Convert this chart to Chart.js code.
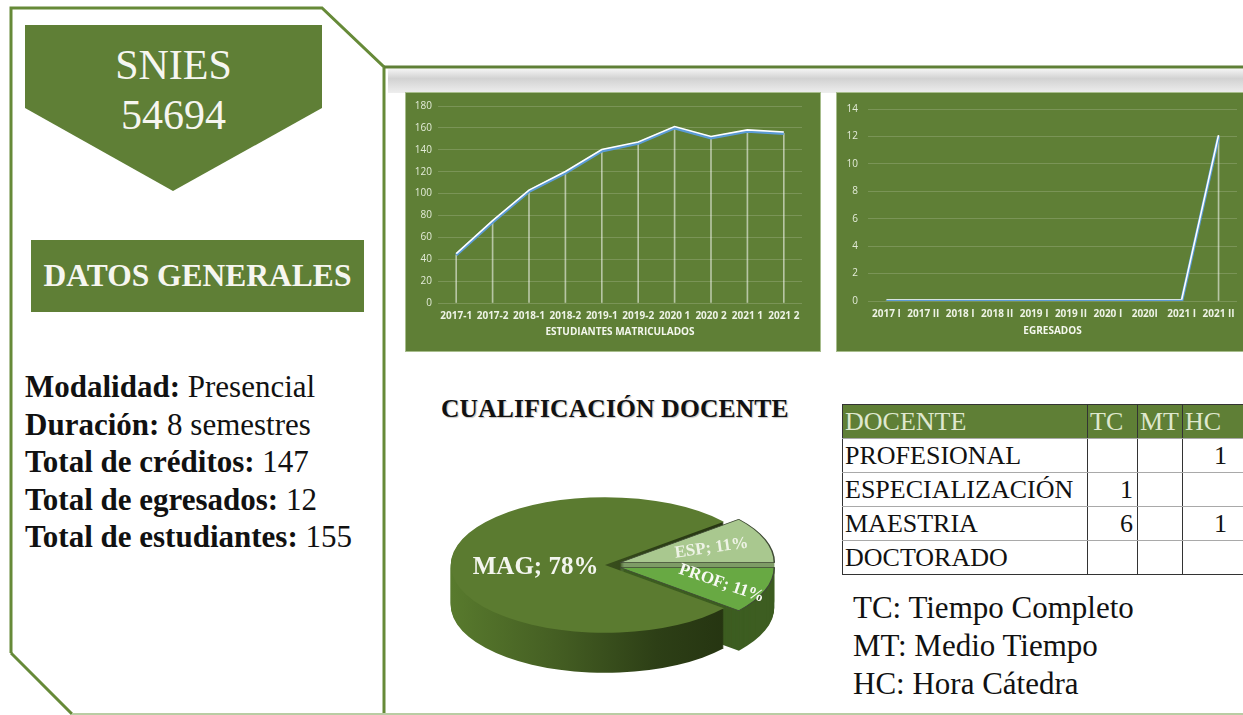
<!DOCTYPE html>
<html><head><meta charset="utf-8">
<script src="https://cdn.jsdelivr.net/npm/chart.js@4.4.1/dist/chart.umd.min.js"></script>
<style>
html,body{margin:0;padding:0}
body{width:1243px;height:715px;overflow:hidden;background:#fff;position:relative;font-family:"Liberation Serif","Times New Roman",serif;color:#111}
.abs{position:absolute}
.box{position:absolute;background:#5f7f36;box-shadow:0 0 0 1px #a7bd8c}
.box canvas{position:absolute;left:0;top:0}
#snies{left:25px;width:297px;top:40px;text-align:center;color:#f6f6f0;font-size:42px;line-height:50px}
#datos{left:31px;top:240px;width:333px;height:72px;background:#5f7f36;color:#f6f6f0;font-weight:bold;font-size:31.5px;line-height:72px;text-align:center;white-space:nowrap}
#info{left:25px;top:368px;font-size:31px;line-height:37.5px;white-space:nowrap}
#info b{font-weight:bold}
#ctitle{left:441px;top:394px;font-size:25.5px;font-weight:bold;letter-spacing:0.2px;text-shadow:1px 1px 1px rgba(0,0,0,0.25);white-space:nowrap}
#tabla{left:842px;top:404px;width:415px;border-collapse:collapse;font-size:26px;table-layout:fixed}
#tabla td{height:33px;padding:0 2px;border-left:1px solid #333;border-right:1px solid #333;border-top:1px solid #a9a9a9;border-bottom:1px solid #a9a9a9;line-height:33px;white-space:nowrap;overflow:hidden}
#tabla tr:first-child td{background:#5f7f36;color:#dfe8cf;border-top:1px solid #333}
#tabla tr:last-child td{border-bottom:1px solid #333}
#tabla td.num{text-align:right;padding-right:4px}
#tabla td.hc{text-align:right;padding-right:30px}
#leyenda{left:853px;top:589px;font-size:31px;line-height:38px;white-space:nowrap}
</style></head><body>

<svg class="abs" style="left:0;top:0" width="1243" height="715">
  <defs>
    <linearGradient id="shadow" x1="0" y1="0" x2="0" y2="1">
      <stop offset="0" stop-color="#f4f4f4"/>
      <stop offset="0.4" stop-color="#d2d2d2"/>
      <stop offset="1" stop-color="#eeeeee"/>
    </linearGradient>
  </defs>
  <rect x="388" y="69" width="855" height="24" fill="url(#shadow)"/>
  <polyline points="11,653 11,8 322,8 384,67 384,715" fill="none" stroke="#668a38" stroke-width="3"/>
  <line x1="11" y1="653" x2="72" y2="714" stroke="#668a38" stroke-width="3"/>
  <line x1="72" y1="714" x2="1243" y2="714" stroke="#b9cca3" stroke-width="2"/>
  <line x1="384" y1="67" x2="1243" y2="67" stroke="#5f7f36" stroke-width="3"/>
  <polygon points="25,25 322,25 322,108 173,191 25,108" fill="#5f7f36"/>
</svg>

<div id="snies" class="abs">SNIES<br>54694</div>
<div id="datos" class="abs">DATOS GENERALES</div>
<div id="info" class="abs"></div>

<div class="box" style="left:406px;top:93px;width:414px;height:258px"><canvas id="c1" width="414" height="258"></canvas></div>
<div class="box" style="left:837px;top:93px;width:410px;height:258px"><canvas id="c2" width="410" height="258"></canvas></div>

<div id="ctitle" class="abs">CUALIFICACIÓN DOCENTE</div>
<canvas id="c3" class="abs" style="left:440px;top:400px" width="360" height="330"></canvas>

<table id="tabla" class="abs"></table>
<div id="leyenda" class="abs"></div>

<script>
// ---------- data ----------
const semestresMatric = ['2017-1','2017-2','2018-1','2018-2','2019-1','2019-2','2020 1','2020 2','2021 1','2021 2'];
const matriculados = [44,74,102,119,139,146,160,151,157,155];
const semestresEgres = ['2017 I','2017 II','2018 I','2018 II','2019 I','2019 II','2020 I','2020I','2021 I','2021 II'];
const egresados = [0,0,0,0,0,0,0,0,0,12];
const cualifLabels = ['ESP','PROF','MAG'];
const cualifValues = [11,11,78];
const tablaHeader = ['DOCENTE','TC','MT','HC'];
const tablaFilas = ['PROFESIONAL','ESPECIALIZACIÓN','MAESTRIA','DOCTORADO'];
const tablaTC = ['', '1', '6', ''];
const tablaMT = ['', '', '', ''];
const tablaHC = ['1', '', '1', ''];
const datosLabels = ['Modalidad:','Duración:','Total de créditos:','Total de egresados:','Total de estudiantes:'];
const datosValues = ['Presencial','8 semestres','147','12','155'];
const leyendaItems = ['TC: Tiempo Completo','MT: Medio Tiempo','HC: Hora Cátedra'];

// ---------- text blocks ----------
document.getElementById('info').innerHTML = datosLabels.map((l,i)=>'<b>'+l+'</b> '+datosValues[i]).join('<br>');
document.getElementById('leyenda').innerHTML = leyendaItems.join('<br>');
(function(){
  const t = document.getElementById('tabla');
  const cg = '<colgroup><col style="width:245px"><col style="width:50px"><col style="width:45px"><col style="width:75px"></colgroup>';
  let h = cg + '<tr>' + tablaHeader.map(x=>'<td>'+x+'</td>').join('') + '</tr>';
  tablaFilas.forEach((f,i)=>{
    h += '<tr><td>'+f+'</td><td class="num">'+tablaTC[i]+'</td><td class="num">'+tablaMT[i]+'</td><td class="hc">'+tablaHC[i]+'</td></tr>';
  });
  t.innerHTML = h;
})();

// ---------- line charts ----------
const liftPlugin = {
  id:'lift',
  beforeDatasetDraw(chart,args){ if(chart.data.datasets[args.index].lift){chart.ctx.save();chart.ctx.translate(0,-1.3);} },
  afterDatasetDraw(chart,args){ if(chart.data.datasets[args.index].lift){chart.ctx.restore();} }
};

function lineConfig(labels, data, yMax, yStep, title, pad, yWidth, yPad, xFont, axisH){
  return {
    type:'bar',
    data:{labels:labels, datasets:[
      {type:'bar', data:data, backgroundColor:'rgba(255,255,255,0.55)', barThickness:1, order:3},
      {type:'line', data:data, borderColor:'#5b9bd5', borderWidth:3.2, pointRadius:0, order:2, tension:0},
      {type:'line', data:data, borderColor:'#ffffff', borderWidth:1.6, pointRadius:0, order:1, tension:0, lift:true}
    ]},
    options:{
      responsive:false, animation:false,
      layout:{padding:pad},
      plugins:{legend:{display:false}, tooltip:{enabled:false}},
      scales:{
        y:{min:0,max:yMax,
          ticks:{stepSize:yStep,color:'#e3ebd8',font:{family:'Open Sans',size:10},padding:yPad},
          grid:{color:'rgba(255,255,255,0.17)',drawTicks:false},
          border:{display:false},
          afterFit(s){s.width=yWidth;}
        },
        x:{
          ticks:{color:'#eef3e6',font:{family:'Open Sans',size:xFont,weight:'bold'},autoSkip:false,maxRotation:0,minRotation:0,padding:7},
          grid:{display:false,drawTicks:false},
          border:{display:false},
          title:{display:true,text:title,color:'#f4f7ee',font:{family:'Open Sans',size:10,weight:'bold'},padding:{top:0,bottom:0}},
          afterFit(s){s.height=axisH;}
        }
      }
    },
    plugins:[liftPlugin]
  };
}
new Chart(document.getElementById('c1'), lineConfig(semestresMatric, matriculados, 180, 20, 'ESTUDIANTES MATRICULADOS', {left:8,right:18,top:13,bottom:13}, 24, 6, 10, 35));
new Chart(document.getElementById('c2'), lineConfig(semestresEgres, egresados, 14, 2, 'EGRESADOS', {left:8,right:10,top:12,bottom:14}, 23, 10, 10, 36));

// ---------- 3D pie ----------
const pie3d = {
  id:'pie3d',
  offsets(chart,o){
    const arcs = chart.getDatasetMeta(0).data;
    return arcs.map((a,i)=>{const m=(a.startAngle+a.endAngle)/2;const e=o.explode[i]||0;return [Math.cos(m)*e, Math.sin(m)*e*o.squash];});
  },
  beforeDatasetsDraw(chart,args,o){
    const ctx = chart.ctx, arcs = chart.getDatasetMeta(0).data;
    const offs = this.offsets(chart,o);
    const cx = arcs[0].x, cy = arcs[0].y, R = arcs[0].outerRadius, s = o.squash;
    const sides = o.sideColors.map(c=>{
      if(Array.isArray(c)){const g=ctx.createLinearGradient(cx-R,0,cx+R,0);c.forEach((col,k)=>g.addColorStop(k/(c.length-1),col));return g;}
      return c;
    });
    for(let d=o.depth; d>=1; d--){
      arcs.forEach((a,i)=>{
        const ox=cx+offs[i][0], oy=cy+offs[i][1]+d;
        ctx.beginPath(); ctx.moveTo(ox,oy);
        ctx.ellipse(ox,oy,R,R*s,0,a.startAngle,a.endAngle);
        ctx.closePath(); ctx.fillStyle=sides[i]; ctx.fill();
      });
    }
    arcs.forEach((a,i)=>{
      ctx.save();
      ctx.translate(offs[i][0],offs[i][1]);
      ctx.translate(cx,cy); ctx.scale(1,s); ctx.translate(-cx,-cy);
      a.draw(ctx);
      ctx.restore();
    });
    return false;
  },
  afterDraw(chart,args,o){
    const ctx = chart.ctx, arcs = chart.getDatasetMeta(0).data;
    const offs = this.offsets(chart,o);
    const vals = chart.data.datasets[0].data, tot = vals.reduce((p,q)=>p+q,0);
    arcs.forEach((a,i)=>{
      const m=(a.startAngle+a.endAngle)/2, f=o.labelPos[i];
      const x=a.x+offs[i][0]+Math.cos(m)*a.outerRadius*f;
      const y=a.y+offs[i][1]+Math.sin(m)*a.outerRadius*o.squash*f+o.labelDy[i];
      ctx.save(); ctx.translate(x,y); ctx.rotate(o.labelRot[i]);
      ctx.font='bold '+o.labelSize[i]+'px "Liberation Serif"';
      ctx.textAlign='center'; ctx.textBaseline='middle';
      ctx.fillStyle=o.labelColor[i];
      ctx.fillText(chart.data.labels[i]+'; '+Math.round(vals[i]/tot*100)+'%',0,0);
      ctx.restore();
    });
  }
};
new Chart(document.getElementById('c3'),{
  type:'pie',
  data:{labels:cualifLabels, datasets:[{data:cualifValues,
    backgroundColor:['#a9c88f','#68a943','#5b7b30'],
    borderColor:['#3f4a35','#3f4a35','#5b7b30'], borderWidth:[1.5,1.5,0]}]},
  options:{
    responsive:false, animation:false, rotation:50.4,
    layout:{padding:{left:10,right:40,top:10,bottom:10}},
    plugins:{legend:{display:false},tooltip:{enabled:false},
      pie3d:{squash:0.44, depth:40, explode:[16,16,0],
        sideColors:['#7e9c66','#3d5d21',['#587a2d','#455f23','#2d3f16','#22300f']],
        labelPos:[0.63,0.70,0.45], labelDy:[0,0,3], labelRot:[-0.14,0.33,0], labelSize:[17,17,25],
        labelColor:['#eef3e6','#f7f9f3','#f3f5ee']}
    }
  },
  plugins:[pie3d]
});
</script>
</body></html>
